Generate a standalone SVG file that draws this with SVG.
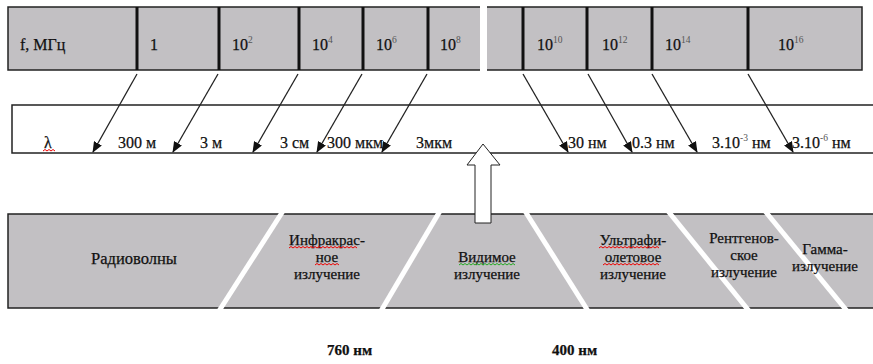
<svg xmlns="http://www.w3.org/2000/svg" width="873" height="364" viewBox="0 0 873 364">
<style>
.t{font-family:"Liberation Serif","Times New Roman",serif;fill:#111;stroke:#111;stroke-width:0.25}
.top{font-size:16px}
.mid{font-size:16px}
.bot{font-size:15px;text-anchor:middle}
.big{font-size:16.5px}
.lbl{font-size:15px;font-weight:bold}
.sup{font-size:9.5px;fill:#555;stroke:none}
.band{fill:#c2c0c3;stroke:#222;stroke-width:1.5}
.sep{stroke:#111;stroke-width:3}
.gap{stroke:#fff;stroke-width:5}
.arr{stroke:#222;stroke-width:1.3;fill:none;marker-end:url(#ah)}
.sq{fill:none;stroke-width:1}
</style>
<defs>
<marker id="ah" markerWidth="11" markerHeight="9" refX="10" refY="4.5" orient="auto" markerUnits="userSpaceOnUse">
<path d="M0,0 L11,4.5 L0,9 z" fill="#111"/>
</marker>
</defs>
<rect width="873" height="364" fill="#fff"/>

<g id="freq-bar">
<rect class="band" x="8" y="7" width="854" height="63"/>
<line class="sep" x1="137" y1="7" x2="137" y2="70"/>
<line class="sep" x1="219" y1="7" x2="219" y2="70"/>
<line class="sep" x1="299" y1="7" x2="299" y2="70"/>
<line class="sep" x1="363" y1="7" x2="363" y2="70"/>
<line class="sep" x1="428" y1="7" x2="428" y2="70"/>
<line class="sep" x1="523" y1="7" x2="523" y2="70"/>
<line class="sep" x1="587" y1="7" x2="587" y2="70"/>
<line class="sep" x1="652" y1="7" x2="652" y2="70"/>
<line class="sep" x1="748" y1="7" x2="748" y2="70"/>
<rect x="480" y="4" width="7" height="69" fill="#fff"/>
<text class="t top" x="20" y="50">f, МГц</text>
<text class="t top" x="150" y="50">1</text>
<text class="t top" x="232" y="50">10<tspan class="sup" dy="-7">2</tspan></text>
<text class="t top" x="312" y="50">10<tspan class="sup" dy="-7">4</tspan></text>
<text class="t top" x="376" y="50">10<tspan class="sup" dy="-7">6</tspan></text>
<text class="t top" x="440" y="50">10<tspan class="sup" dy="-7">8</tspan></text>
<text class="t top" x="537" y="50">10<tspan class="sup" dy="-7">10</tspan></text>
<text class="t top" x="602" y="50">10<tspan class="sup" dy="-7">12</tspan></text>
<text class="t top" x="665" y="50">10<tspan class="sup" dy="-7">14</tspan></text>
<text class="t top" x="778" y="50">10<tspan class="sup" dy="-7">16</tspan></text>
</g>

<g id="wavelength-bar">
<rect x="12" y="105" width="870" height="48" fill="#fff" stroke="#222" stroke-width="1.5"/>
<text class="t mid" x="44" y="148">λ</text>
<path class="sq" stroke="#e00" d="M43,151 l2,-1.5 l2,1.5 l2,-1.5 l2,1.5 l2,-1.5 l2,1.5"/>
<text class="t mid" x="118" y="148">300 м</text>
<text class="t mid" x="200" y="148">3 м</text>
<text class="t mid" x="280" y="148">3 см</text>
<text class="t mid" x="327" y="148">300 мкм</text>
<text class="t mid" x="416" y="148">3мкм</text>
<text class="t mid" x="568" y="148">30 нм</text>
<text class="t mid" x="632" y="148">0.3 нм</text>
<text class="t mid" x="712" y="148">3.10<tspan class="sup" dy="-7">-3</tspan><tspan dy="7"> нм</tspan></text>
<text class="t mid" x="792" y="148">3.10<tspan class="sup" dy="-7">-6</tspan><tspan dy="7"> нм</tspan></text>
</g>

<g id="spectrum-bar">
<rect class="band" x="8" y="214" width="870" height="94"/>
<line class="gap" x1="283" y1="211" x2="219" y2="311"/>
<line class="gap" x1="440" y1="211" x2="381" y2="311"/>
<line class="gap" x1="525" y1="211" x2="588" y2="311"/>
<line class="gap" x1="668" y1="211" x2="749" y2="311"/>
<line class="gap" x1="765" y1="211" x2="847" y2="311"/>
</g>

<g id="radio">
<text class="t bot big" x="134" y="264">Радиоволны</text>
</g>
<g id="infrared">
<text class="t bot" x="327" y="245">Инфракрас-</text>
<text class="t bot" x="327" y="262">ное</text>
<text class="t bot" x="327" y="279">излучение</text>
<path class="sq" stroke="#e00" d="M289,248 l2,-1.5 l2,1.5 l2,-1.5 l2,1.5 l2,-1.5 l2,1.5 l2,-1.5 l2,1.5 l2,-1.5 l2,1.5 l2,-1.5 l2,1.5 l2,-1.5 l2,1.5 l2,-1.5 l2,1.5 l2,-1.5 l2,1.5 l2,-1.5 l2,1.5 l2,-1.5 l2,1.5 l2,-1.5 l2,1.5 l2,-1.5 l2,1.5 l2,-1.5 l2,1.5 l2,-1.5 l2,1.5 l2,-1.5 l2,1.5 l2,-1.5 l2,1.5"/>
<path class="sq" stroke="#e00" d="M315,265 l2,-1.5 l2,1.5 l2,-1.5 l2,1.5 l2,-1.5 l2,1.5 l2,-1.5 l2,1.5 l2,-1.5 l2,1.5 l2,-1.5 l2,1.5"/>
</g>
<g id="visible">
<text class="t bot" x="487" y="262">Видимое</text>
<text class="t bot" x="487" y="279">излучение</text>
<path class="sq" stroke="#2a2" d="M459,265 l2,-1.5 l2,1.5 l2,-1.5 l2,1.5 l2,-1.5 l2,1.5 l2,-1.5 l2,1.5 l2,-1.5 l2,1.5 l2,-1.5 l2,1.5 l2,-1.5 l2,1.5 l2,-1.5 l2,1.5 l2,-1.5 l2,1.5 l2,-1.5 l2,1.5 l2,-1.5 l2,1.5 l2,-1.5 l2,1.5 l2,-1.5 l2,1.5 l2,-1.5 l2,1.5"/>
</g>
<g id="ultraviolet">
<text class="t bot" x="633" y="245">Ультрафи-</text>
<text class="t bot" x="633" y="262">олетовое</text>
<text class="t bot" x="633" y="279">излучение</text>
<path class="sq" stroke="#e00" d="M599,248 l2,-1.5 l2,1.5 l2,-1.5 l2,1.5 l2,-1.5 l2,1.5 l2,-1.5 l2,1.5 l2,-1.5 l2,1.5 l2,-1.5 l2,1.5 l2,-1.5 l2,1.5 l2,-1.5 l2,1.5 l2,-1.5 l2,1.5 l2,-1.5 l2,1.5 l2,-1.5 l2,1.5 l2,-1.5 l2,1.5 l2,-1.5 l2,1.5 l2,-1.5 l2,1.5 l2,-1.5 l2,1.5"/>
<path class="sq" stroke="#e00" d="M603,265 l2,-1.5 l2,1.5 l2,-1.5 l2,1.5 l2,-1.5 l2,1.5 l2,-1.5 l2,1.5 l2,-1.5 l2,1.5 l2,-1.5 l2,1.5 l2,-1.5 l2,1.5 l2,-1.5 l2,1.5 l2,-1.5 l2,1.5 l2,-1.5 l2,1.5 l2,-1.5 l2,1.5 l2,-1.5 l2,1.5 l2,-1.5 l2,1.5 l2,-1.5 l2,1.5"/>
</g>
<g id="xray">
<text class="t bot" x="744" y="243">Рентгенов-</text>
<text class="t bot" x="744" y="260">ское</text>
<text class="t bot" x="744" y="277">излучение</text>
</g>
<g id="gamma">
<text class="t bot" x="825" y="254">Гамма-</text>
<text class="t bot" x="825" y="271">излучение</text>
</g>

<g id="connectors">
<line class="arr" x1="137" y1="74" x2="93" y2="152"/>
<line class="arr" x1="218" y1="74" x2="173" y2="152"/>
<line class="arr" x1="298" y1="74" x2="253" y2="152"/>
<line class="arr" x1="362" y1="74" x2="317" y2="152"/>
<line class="arr" x1="427" y1="74" x2="382" y2="152"/>
<line class="arr" x1="523" y1="74" x2="568" y2="152"/>
<line class="arr" x1="588" y1="74" x2="632" y2="152"/>
<line class="arr" x1="652" y1="74" x2="697" y2="152"/>
<line class="arr" x1="748" y1="74" x2="793" y2="152"/>
<path id="visible-arrow" d="M483,144 L500,165 L491,165 L491,223 L475,223 L475,165 L467,165 Z" fill="#fff" stroke="#222" stroke-width="1"/>
</g>

<g id="boundary-labels">
<text class="t lbl" x="327" y="355">760 нм</text>
<text class="t lbl" x="552" y="355">400 нм</text>
</g>
</svg>
